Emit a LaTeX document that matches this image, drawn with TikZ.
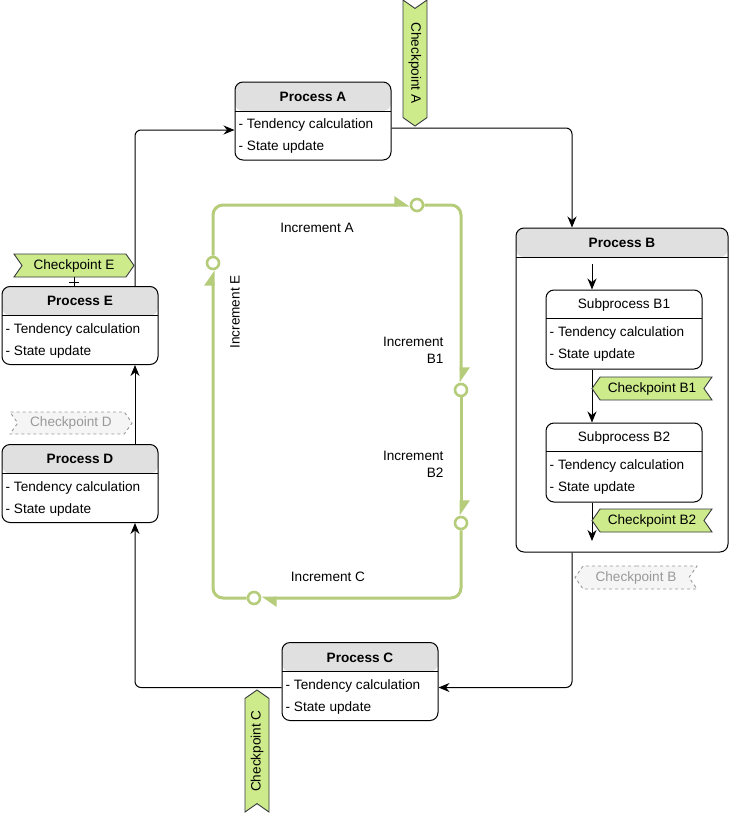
\documentclass[tikz,border=0pt]{standalone}
\usepackage{fontspec}
\setmainfont{Liberation Sans}
\usetikzlibrary{positioning,arrows.meta,shapes.symbols}

\definecolor{headgray}{RGB}{224,224,224}
\definecolor{flaggreen}{RGB}{205,235,139}
\definecolor{flagedge}{RGB}{54,57,61}
\definecolor{loopgreen}{RGB}{181,204,122}
\definecolor{ghostfill}{RGB}{245,245,245}
\definecolor{ghostline}{RGB}{153,153,153}

\tikzset{
    base/.style={font=\fontsize{13.6}{17}\selectfont},
    proc/.style={
        draw, line width=1pt, rounded corners=8pt,
        minimum width=156pt, minimum height=78pt, inner sep=0pt,
        path picture={
            \fill[headgray] (path picture bounding box.north west)
                rectangle ([yshift=-#1]path picture bounding box.north east);
            \draw[line width=1pt] ([yshift=-#1]path picture bounding box.north west)
                -- ([yshift=-#1]path picture bounding box.north east);
        }
    },
    proc/.default=29pt,
    subproc/.style={
        draw, line width=1pt, rounded corners=8pt,
        minimum width=156pt, minimum height=79pt, inner sep=0pt,
        path picture={
            \draw[line width=1pt] ([yshift=-28pt]path picture bounding box.north west)
                -- ([yshift=-28pt]path picture bounding box.north east);
        }
    },
    title/.style={base, font=\fontsize{13.6}{17}\selectfont\bfseries},
    subtitle/.style={base},
    item/.style={base, anchor=west, inner sep=1pt},
    conn/.style={line width=1pt, rounded corners=6pt, -{Stealth[length=11pt,width=9pt]}},
    flag/.style={
        base, shape=signal, draw=flagedge, fill=flaggreen, line width=0.9pt,
        inner sep=0pt, minimum width=120pt, minimum height=23pt, signal pointer angle=110
    },
    flagright/.style={flag, signal from=west, signal to=east},
    flagleft/.style={flag, signal from=east, signal to=west},
    ghost/.style={draw=ghostline, fill=ghostfill, text=ghostline, dash pattern=on 3pt off 3pt},
    incr/.style={
        draw=loopgreen, line width=3pt, rounded corners=10pt,
        -{Triangle[harpoon,length=13pt,width=17pt]}
    },
    incpt/.style={circle, draw=loopgreen, fill=white, line width=2.6pt, minimum size=12pt, inner sep=0pt}
}

\begin{document}
\begin{tikzpicture}[x=1pt,y=-1pt]
    \useasboundingbox (0,0) rectangle (742,817);

    % processes
    \node[proc] (pa) at (313,121) {};
    \node[proc, minimum width=212pt, minimum height=324pt] (pb) at (622,390) {};
    \node[subproc] (b1) at (624,329.5) {};
    \node[subproc] (b2) at (624,462.5) {};
    \node[proc] (pc) at (360,681.5) {};
    \node[proc] (pd) at (80,483.5) {};
    \node[proc] (pe) at (80,325.5) {};

    \node[title] at ([yshift=-15.5pt]pa.north) {Process A};
    \node[title] at ([yshift=-15.5pt]pb.north) {Process B};
    \node[title] at ([yshift=-15.5pt]pc.north) {Process C};
    \node[title] at ([yshift=-15pt]pd.north) {Process D};
    \node[title] at ([yshift=-15pt]pe.north) {Process E};
    \node[subtitle] at ([yshift=-15pt]b1.north) {Subprocess B1};
    \node[subtitle] at ([yshift=-15pt]b2.north) {Subprocess B2};

    \foreach \p in {pa,pc,pd,pe,b1,b2} {
        \node[item] at ([xshift=3pt,yshift=-43.5pt]\p.north west) {- Tendency calculation};
        \node[item] at ([xshift=3pt,yshift=-65.5pt]\p.north west) {- State update};
    }

    % main cycle
    \draw[conn] ([xshift=55pt]pe.north) |- ([yshift=-9pt]pa.west);
    \draw[conn] ([yshift=-7pt]pa.east) -| ([xshift=-50pt]pb.north);
    \draw[conn] ([xshift=-50pt]pb.south) |- ([yshift=-6pt]pc.east);
    \draw[conn] ([yshift=-6pt]pc.west) -| ([xshift=55pt]pd.south);
    \draw[conn] ([xshift=55pt]pd.north) -- ([xshift=55pt]pe.south);

    % inside process B
    \coordinate (bin) at (592,264);
    \coordinate (bout) at (592,541);
    \draw[conn] (bin) -- (bin |- b1.north);
    \draw[conn] (bin |- b1.south) -- (bin |- b2.north);
    \draw[conn] (bin |- b2.south) -- (bout);

    % checkpoints
    \node[flagright, rotate=-90, minimum width=126pt, minimum height=24pt] (cpa) at (415,63) {Checkpoint A};
    \node[flagleft] (cpb1) at (652,388.5) {Checkpoint B1};
    \node[flagleft] (cpb2) at (652,520.5) {Checkpoint B2};
    \node[flagleft, ghost, minimum width=122pt] (cpb) at (636,577.5) {Checkpoint B};
    \node[flagright, rotate=90, minimum width=122pt, minimum height=24pt] (cpc) at (257,751) {Checkpoint C};
    \node[flagright, ghost, minimum width=122pt, minimum height=22pt] (cpd) at (71,423) {Checkpoint D};
    \node[flagright] (cpe) at (74,265.5) {Checkpoint E};

    \draw[line width=1pt] (cpe.south) -- (cpe.south |- pe.north);
    \coordinate (tick) at ([yshift=-5pt]cpe.south);
    \draw[line width=1pt] ([xshift=-5pt]tick) -- ([xshift=5pt]tick);

    % increment loop
    \node[incpt] (ia) at (417,205) {};
    \node[incpt] (ib1) at (461,390) {};
    \node[incpt] (ib2) at (461,523) {};
    \node[incpt] (ic) at (254,598) {};
    \node[incpt] (ie) at (213,263) {};

    \draw[incr] (ie) |- (ia);
    \draw[incr] (ia) -| (ib1);
    \draw[incr] (ib1) -- (ib2);
    \draw[incr] (ib2) |- (ic);
    \draw[incr] (ic) -| (ie);

    \node[base] at (317,228) {Increment A};
    \node[base, align=right, anchor=east] at (447,350.5) {Increment\\B1};
    \node[base, align=right, anchor=east] at (447,464.5) {Increment\\B2};
    \node[base] at (328,577) {Increment C};
    \node[base, rotate=90] at (235,312) {Increment E};
\end{tikzpicture}
\end{document}
